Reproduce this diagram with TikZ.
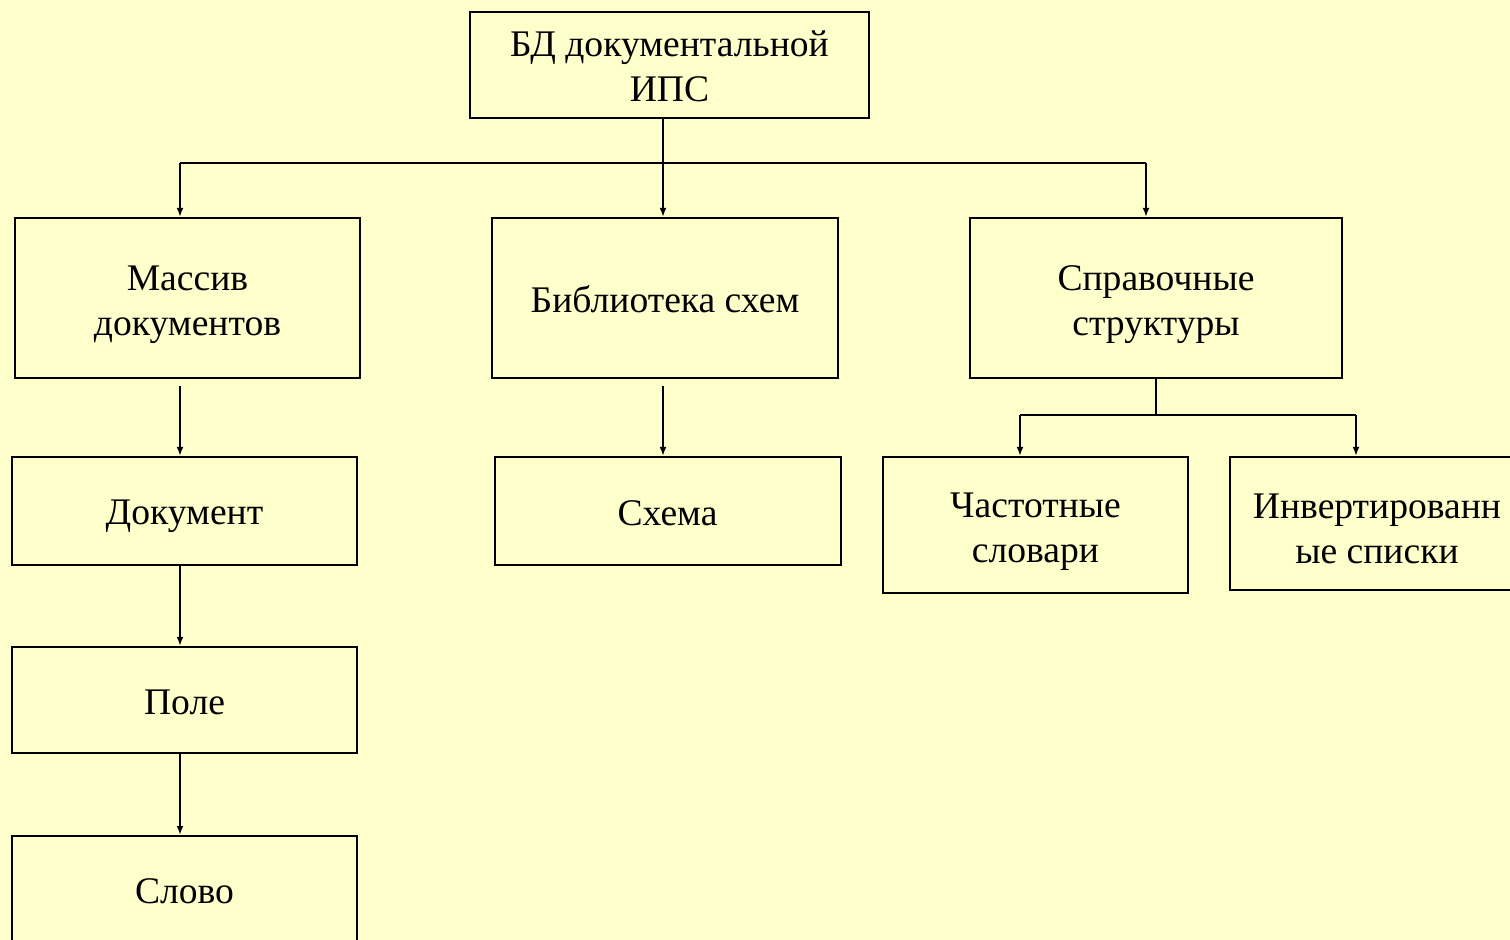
\documentclass[tikz,border=0pt]{standalone}
\usepackage{fontspec}
\setmainfont{Liberation Serif}
\usepackage{tikz}
\usetikzlibrary{arrows.meta,positioning,calc}
\definecolor{pbg}{HTML}{FFFFCC}
\tikzset{
  % plain framed box, sizes given per node
  box/.style  = {rectangle, draw=black, line width=1pt, align=center, inner sep=0pt,
                 font=\fontsize{18.8}{22.5}\selectfont},
  % push the text of a box a little down
  low/.style  = {execute at begin node={\rule{0pt}{#1}}},
  arr/.style  = {-{Latex[length=4.5pt,width=3.4pt]}, line width=0.9pt},
  bus/.style  = {line width=0.9pt},
}
\begin{document}
\begin{tikzpicture}[x=0.5pt,y=-0.5pt]
\useasboundingbox (0,0) rectangle (1510,940);
\fill[pbg] (0,0) rectangle (1510,940);
% top
\node[box, low=36.9pt, minimum width=199.5pt, minimum height=53pt] (bd) at (669.5,65) {БД документальной\\ИПС};
% first level
\node[box, low=41.9pt, minimum width=172.5pt, minimum height=80pt] (mas) at (187.5,298) {Массив\\документов};
\node[box, low=14.4pt, minimum width=173pt, minimum height=80pt] (lib) at (665,298) {Библиотека схем};
\node[box, low=41.9pt, minimum width=186pt, minimum height=80pt] (spr) at (1156,298) {Справочные\\структуры};
% left column
\node[box, low=17.4pt, minimum width=172.5pt, minimum height=54pt] (doc) at (184.5,511) {Документ};
\node[box, low=14.4pt, minimum width=172.5pt, minimum height=53pt] (pole) at (184.5,700) {Поле};
\node[box, low=12.6pt, minimum width=172.5pt, minimum height=55pt] (slovo) at (184.5,891) {Слово};
% middle column
\node[box, low=14.6pt, minimum width=173pt, minimum height=54pt] (shema) at (667.5,511) {Схема};
% right column
\node[box, low=41.9pt, minimum width=152.5pt, minimum height=68pt] (chast) at (1035.5,525) {Частотные\\словари};
\node[box, low=39.9pt, minimum width=147pt, minimum height=66.5pt] (inv) at (1377,523.5) {Инвертированн\\ые списки};
% bus under the top box
\coordinate (busl) at (180,163);
\coordinate (busm) at (663,163);
\coordinate (busr) at (1146,163);
\draw[bus] (busl) -- (busr);
\draw[arr] (bd.south -| busm) -- (lib.north -| busm);
\draw[arr] (busl) -- (mas.north -| busl);
\draw[arr] (busr) -- (spr.north -| busr);
% left and middle chains
\coordinate (cl) at (180,0);
\draw[arr, shorten <=3.5pt] (mas.south -| cl) -- (doc.north -| cl);
\draw[arr] (doc.south -| cl) -- (pole.north -| cl);
\draw[arr] (pole.south -| cl) -- (slovo.north -| cl);
\draw[arr, shorten <=3.5pt] (lib.south -| busm) -- (shema.north -| busm);
% fork under Справочные структуры
\coordinate (fork) at (1156,415);
\coordinate (forkl) at (1020,415);
\coordinate (forkr) at (1356,415);
\draw[bus] (spr.south) -- (fork);
\draw[bus] (forkl) -- (forkr);
\draw[arr] (forkl) -- (chast.north -| forkl);
\draw[arr] (forkr) -- (inv.north -| forkr);
\end{tikzpicture}
\end{document}
